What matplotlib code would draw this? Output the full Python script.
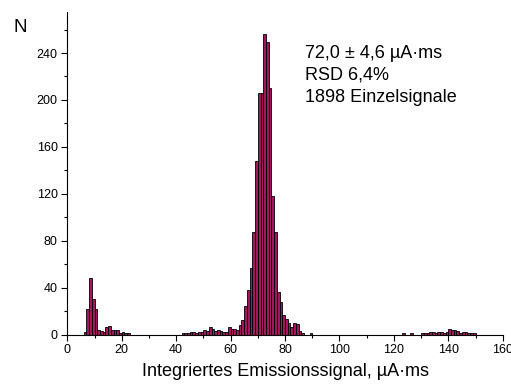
import matplotlib
matplotlib.use('Agg')
import matplotlib.pyplot as plt
from matplotlib.ticker import MultipleLocator

plt.rcParams['font.family'] = ['Liberation Sans', 'DejaVu Sans']

# histogram, 1 unit bins (left edge)
low_bins = [6, 7, 8, 9, 10, 11, 12, 13, 14, 15, 16, 17, 18, 19, 20, 21, 22]
low_counts = [2, 22, 48, 30, 22, 4, 3, 2, 6, 7, 4, 4, 4, 1, 2, 1, 1]

mid_bins = [42, 43, 44, 45, 46, 47, 48, 49, 50, 51, 52, 53, 54, 55, 56, 57, 58, 59, 60, 61, 62]
mid_counts = [1, 1, 1, 2, 2, 1, 2, 2, 4, 3, 6, 5, 3, 4, 3, 2, 2, 6, 5, 5, 4]

peak_bins = [63, 64, 65, 66, 67, 68, 69, 70, 71, 72, 73, 74, 75, 76, 77, 78, 79, 80,
             81, 82, 83, 84, 85, 86, 89]
peak_counts = [8, 12, 24, 38, 57, 87, 148, 206, 206, 256, 249, 210, 118, 87, 36, 28, 17, 13,
               10, 6, 10, 9, 3, 1, 1]

high_bins = [123, 126, 130, 131, 132, 133, 134, 135, 136, 137, 138, 139, 140, 141, 142,
             143, 144, 145, 146, 147, 148, 149]
high_counts = [1, 1, 1, 1, 1, 2, 2, 1, 2, 2, 1, 2, 5, 4, 4, 3, 1, 2, 2, 1, 1, 1]

stats_lines = ['72,0 ± 4,6 µA·ms', 'RSD 6,4%', '1898 Einzelsignale']

bins = low_bins + mid_bins + peak_bins + high_bins
counts = low_counts + mid_counts + peak_counts + high_counts

fig = plt.figure(figsize=(5.11, 3.90), dpi=100)
ax = fig.add_axes([0.1317, 0.1423, 0.8521, 0.827])

ax.bar(bins, counts, width=1, align='edge', color='#a0185c',
       edgecolor='black', linewidth=0.6)

ax.set_xlim(0, 160)
ax.set_ylim(0, 275)
ax.xaxis.set_major_locator(MultipleLocator(20))
ax.xaxis.set_minor_locator(MultipleLocator(10))
ax.yaxis.set_major_locator(MultipleLocator(40))
ax.yaxis.set_minor_locator(MultipleLocator(20))
ax.tick_params(which='major', direction='out', length=4, width=0.8, labelsize=9, pad=3)
ax.tick_params(which='minor', direction='out', length=2.3, width=0.8)

ax.spines['top'].set_visible(False)
ax.spines['right'].set_visible(False)

ax.set_xlabel('Integriertes Emissionssignal, µA·ms', fontsize=13, labelpad=5)
fig.text(0.039, 0.93, 'N', fontsize=13.5, ha='center', va='center')

ys = [0.8505, 0.7949, 0.7392]
for line, y in zip(stats_lines, ys):
    fig.text(0.597, y, line, fontsize=13, va='baseline')

fig.savefig('out.png', dpi=100)
